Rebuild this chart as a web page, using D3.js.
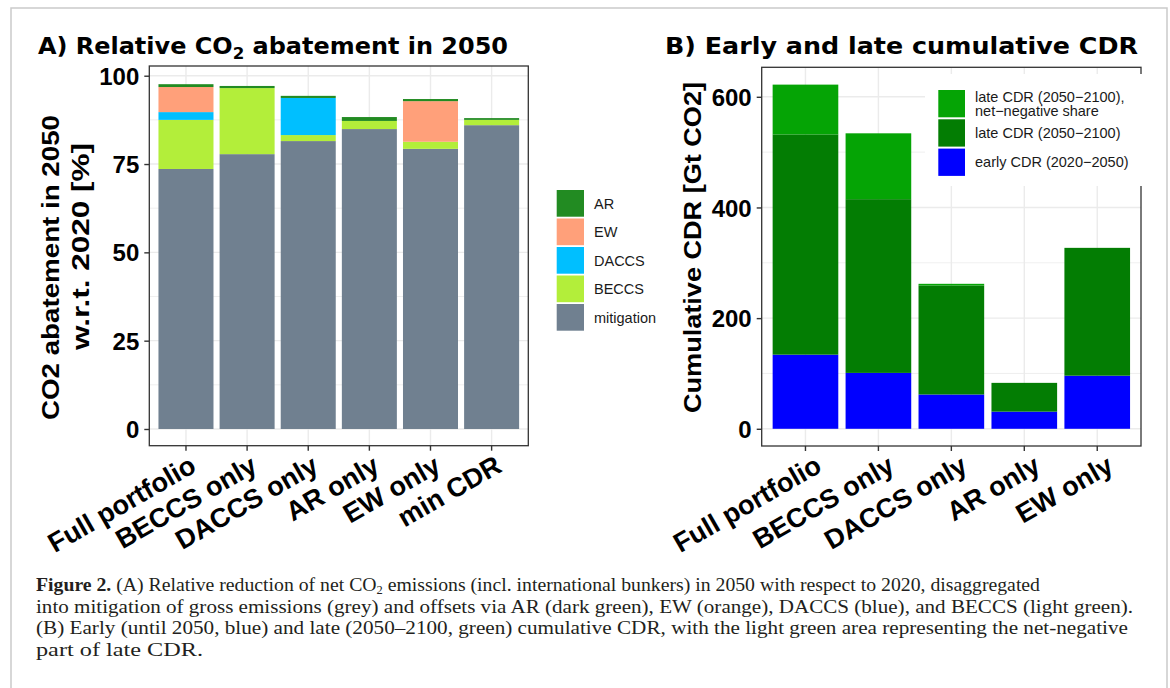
<!DOCTYPE html>
<html>
<head>
<meta charset="utf-8">
<script src="https://cdn.jsdelivr.net/npm/d3@7"></script>
<style>
  html, body { margin: 0; padding: 0; background: #fff; }
  svg { display: block; }
</style>
</head>
<body>
<svg id="fig" width="1170" height="688"></svg>
<script>
// ---- Panel A: relative abatement in 2050 (% w.r.t. 2020) ----
const scenariosA = ["Full portfolio", "BECCS only", "DACCS only", "AR only", "EW only", "min CDR"];
const mitigation = [73.6, 77.8, 81.5, 84.9, 79.3, 86.0];
const beccs      = [13.9, 18.7, 1.7, 2.3, 2.0, 1.5];
const daccs      = [2.2, 0, 10.5, 0, 0, 0];
const ew         = [7.1, 0, 0, 0, 11.5, 0];
const ar         = [0.8, 0.6, 0.6, 1.1, 0.6, 0.5];
const ticksA     = [0, 25, 50, 75, 100];

// ---- Panel B: early and late cumulative CDR (Gt CO2) ----
const scenariosB  = ["Full portfolio", "BECCS only", "DACCS only", "AR only", "EW only"];
const earlyCDR    = [134, 101, 62, 31, 96];
const lateCDR     = [398, 314, 197, 52, 231];
const netNegative = [90, 119, 3, 0, 0];
const ticksB      = [0, 200, 400, 600];

const svg = d3.select("#fig");
const SANS = "'Liberation Sans', Arial, sans-serif";
const TITLE = "'DejaVu Sans', Verdana, sans-serif";
const SERIF = "'Liberation Serif', 'Times New Roman', serif";
const GRID = "#ebebeb", INK = "#333333";

// light frame around the figure
svg.append("rect").attr("x", 11).attr("y", 8).attr("width", 1156).attr("height", 700)
  .attr("fill", "none").attr("stroke", "#cacaca").attr("stroke-width", 1.5);

function panel(opts) {
  const {x0, x1, y0, y1, cats, domain, ticks, minor, series, colors, keys, labelDx, labelY} = opts;
  const g = svg.append("g");
  const x = d3.scaleBand().domain(cats).range([x0, x1]).paddingInner(0.1).paddingOuter(0.15);
  const y = d3.scaleLinear().domain(domain).range([y1, y0]);

  // grid
  g.append("g").selectAll("line").data(minor).join("line")
    .attr("x1", x0).attr("x2", x1).attr("y1", d => y(d)).attr("y2", d => y(d))
    .attr("stroke", GRID).attr("stroke-width", 0.8);
  g.append("g").selectAll("line").data(ticks).join("line")
    .attr("x1", x0).attr("x2", x1).attr("y1", d => y(d)).attr("y2", d => y(d))
    .attr("stroke", GRID).attr("stroke-width", 1.4);
  g.append("g").selectAll("line").data(cats).join("line")
    .attr("x1", d => x(d) + x.bandwidth() / 2).attr("x2", d => x(d) + x.bandwidth() / 2)
    .attr("y1", y0).attr("y2", y1)
    .attr("stroke", GRID).attr("stroke-width", 1.4);

  // stacked bars
  const rows = cats.map((c, i) => {
    const r = {cat: c};
    keys.forEach((k, j) => r[k] = series[j][i]);
    return r;
  });
  const stacked = d3.stack().keys(keys)(rows);
  g.append("g").selectAll("g").data(stacked).join("g")
    .attr("fill", (d, j) => colors[j])
    .selectAll("rect").data(d => d.filter(s => s[1] - s[0] > 0)).join("rect")
    .attr("x", d => x(d.data.cat))
    .attr("width", x.bandwidth())
    .attr("y", d => y(d[1]))
    .attr("height", d => y(d[0]) - y(d[1]));

  // panel border
  g.append("rect").attr("x", x0).attr("y", y0).attr("width", x1 - x0).attr("height", y1 - y0)
    .attr("fill", "none").attr("stroke", INK).attr("stroke-width", 1.3);

  // y axis
  const ya = g.append("g").attr("transform", `translate(${x0},0)`)
    .call(d3.axisLeft(y).tickValues(ticks).tickSize(5).tickPadding(5).tickFormat(d3.format("d")));
  ya.select(".domain").remove();
  ya.selectAll(".tick line").attr("stroke", INK).attr("stroke-width", 1.4);
  ya.selectAll(".tick text").attr("font-family", SANS).attr("font-weight", "bold")
    .attr("font-size", 24).attr("fill", "#000").attr("dy", "0.36em");

  // x axis
  const xa = g.append("g").attr("transform", `translate(0,${y1})`)
    .call(d3.axisBottom(x).tickSize(5).tickFormat(""));
  xa.select(".domain").remove();
  xa.selectAll(".tick line").attr("stroke", INK).attr("stroke-width", 1.4);
  g.append("g").selectAll("text").data(cats).join("text")
    .attr("transform", d => `translate(${x(d) + x.bandwidth() / 2 + labelDx},${labelY}) rotate(-30)`)
    .attr("text-anchor", "end").attr("dy", "0.72em")
    .attr("font-family", SANS).attr("font-weight", "bold").attr("font-size", 27).attr("fill", "#000")
    .text(d => d);

  return {g, x, y};
}

// Panel A
panel({
  x0: 149.3, x1: 528.3, y0: 66, y1: 445.7, labelDx: 2, labelY: 454,
  cats: scenariosA, domain: [-4.73, 102.75], ticks: ticksA, minor: [12.5, 37.5, 62.5, 87.5],
  keys: ["mitigation", "BECCS", "DACCS", "EW", "AR"],
  series: [mitigation, beccs, daccs, ew, ar],
  colors: ["#708090", "#b3ee3a", "#00bfff", "#ffa07a", "#228b22"]
});

// Panel B
panel({
  x0: 761.7, x1: 1141, y0: 67.3, y1: 446, labelDx: 8, labelY: 454,
  cats: scenariosB, domain: [-31.1, 653.3], ticks: ticksB, minor: [100, 300, 500],
  keys: ["early", "late", "netneg"],
  series: [earlyCDR, lateCDR, netNegative],
  colors: ["#0000ff", "#037d03", "#05a405"]
});

// titles
function title(x, y, width, pre, post) {
  const t = svg.append("text").attr("x", x).attr("y", y)
    .attr("textLength", width).attr("lengthAdjust", "spacingAndGlyphs")
    .attr("font-family", TITLE).attr("font-weight", "bold").attr("font-size", 23).attr("fill", "#000");
  t.append("tspan").text(pre);
  if (post !== undefined) {
    t.append("tspan").attr("dy", 5).attr("font-size", 16).text("2");
    t.append("tspan").attr("dy", -5).text(post);
  }
}
title(38, 53.5, 470, "A) Relative CO", " abatement in 2050");
title(665, 53.5, 473, "B) Early and late cumulative CDR");

// y axis titles
function vlabel(cx, cy, len, txt) {
  svg.append("text").attr("transform", `translate(${cx},${cy}) rotate(-90)`)
    .attr("text-anchor", "middle").attr("dy", "0.36em")
    .attr("textLength", len).attr("lengthAdjust", "spacingAndGlyphs")
    .attr("font-family", SANS).attr("font-weight", "bold").attr("font-size", 24).attr("fill", "#000")
    .text(txt);
}
vlabel(50, 267.5, 305, "CO2 abatement in 2050");
vlabel(80, 246.5, 207, "w.r.t. 2020 [%]");
vlabel(692, 247.5, 331, "Cumulative CDR [Gt CO2]");

// legend A
const legA = [["AR", "#228b22"], ["EW", "#ffa07a"], ["DACCS", "#00bfff"], ["BECCS", "#b3ee3a"], ["mitigation", "#708090"]];
const la = svg.append("g");
legA.forEach(([name, col], i) => {
  const top = 190 + i * 28.5;
  la.append("rect").attr("x", 556.7).attr("y", top).attr("width", 27.3).attr("height", 26.7).attr("fill", col);
  la.append("text").attr("x", 594).attr("y", top + 13.3).attr("dy", "0.36em")
    .attr("font-family", SANS).attr("font-size", 14.5).attr("fill", "#1a1a1a").text(name);
});

// legend B (inside the panel, white background)
const lb = svg.append("g");
lb.append("rect").attr("x", 925).attr("y", 74).attr("width", 222).attr("height", 112).attr("fill", "#fff");
const legB = [
  [["late CDR (2050\u22122100),", "net\u2212negative share"], "#05a405"],
  [["late CDR (2050\u22122100)"], "#037d03"],
  [["early CDR (2020\u22122050)"], "#0000ff"]
];
legB.forEach(([lines, col], i) => {
  const top = 90 + i * 29.3;
  lb.append("rect").attr("x", 938.3).attr("y", top).attr("width", 26.7).attr("height", 27.3).attr("fill", col);
  const t = lb.append("text").attr("font-family", SANS).attr("font-size", 14.5).attr("fill", "#1a1a1a");
  const mid = top + 13.6;
  lines.forEach((ln, k) => {
    t.append("tspan").attr("x", 975)
      .attr("y", mid + 5.2 + (k - (lines.length - 1) / 2) * 14.5).text(ln);
  });
});

// caption
const cap = svg.append("g").attr("font-family", SERIF).attr("font-size", 19).attr("fill", "#231f20");
const c1 = cap.append("text").attr("x", 36).attr("y", 591).attr("textLength", 1004).attr("lengthAdjust", "spacingAndGlyphs");
c1.append("tspan").attr("font-weight", "bold").text("Figure 2.");
c1.append("tspan").text(" (A) Relative reduction of net CO");
c1.append("tspan").attr("dy", 3).attr("font-size", 12).text("2");
c1.append("tspan").attr("dy", -3).text(" emissions (incl. international bunkers) in 2050 with respect to 2020, disaggregated");
cap.append("text").attr("x", 36).attr("y", 612.5).attr("textLength", 1097).attr("lengthAdjust", "spacingAndGlyphs")
  .text("into mitigation of gross emissions (grey) and offsets via AR (dark green), EW (orange), DACCS (blue), and BECCS (light green).");
cap.append("text").attr("x", 36).attr("y", 634).attr("textLength", 1092).attr("lengthAdjust", "spacingAndGlyphs")
  .text("(B) Early (until 2050, blue) and late (2050\u20132100, green) cumulative CDR, with the light green area representing the net-negative");
cap.append("text").attr("x", 36).attr("y", 655.5).attr("textLength", 167).attr("lengthAdjust", "spacingAndGlyphs")
  .text("part of late CDR.");
</script>
</body>
</html>
